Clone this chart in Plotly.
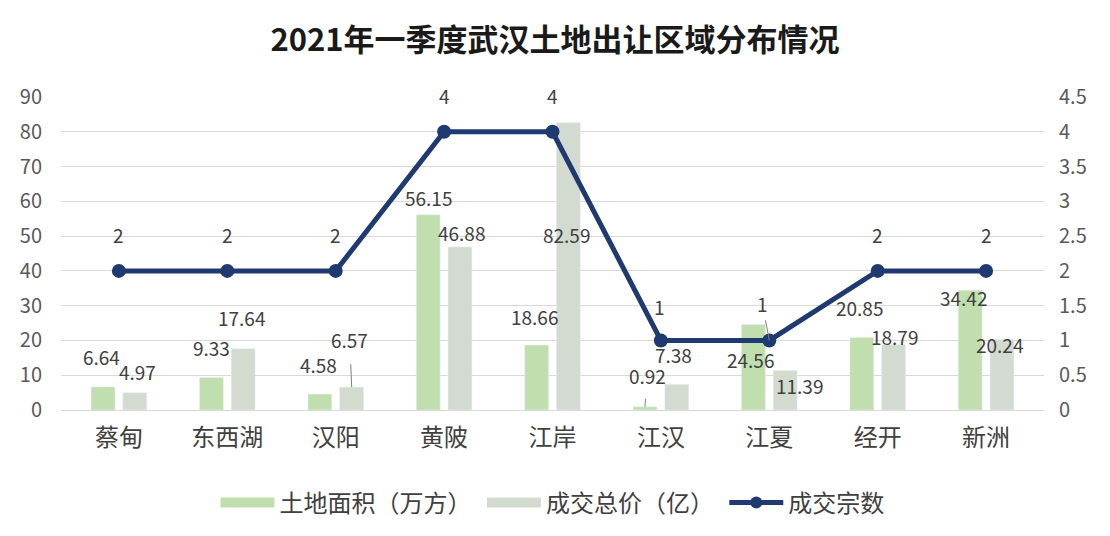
import plotly.graph_objects as go

categories = ["蔡甸", "东西湖", "汉阳", "黄陂", "江岸", "江汉", "江夏", "经开", "新洲"]
land_area = [6.64, 9.33, 4.58, 56.15, 18.66, 0.92, 24.56, 20.85, 34.42]
total_price = [4.97, 17.64, 6.57, 46.88, 82.59, 7.38, 11.39, 18.79, 20.24]
deal_count = [2, 2, 2, 4, 4, 1, 1, 2, 2]

title_text = "2021年一季度武汉土地出让区域分布情况"
series_names = ["土地面积（万方）", "成交总价（亿）", "成交宗数"]
left_ticks = [0, 10, 20, 30, 40, 50, 60, 70, 80, 90]
right_ticks = [0, 0.5, 1, 1.5, 2, 2.5, 3, 3.5, 4, 4.5]
right_tick_text = ["0", "0.5", "1", "1.5", "2", "2.5", "3", "3.5", "4", "4.5"]

# label placement offsets (pixels): (xshift, yshift) relative to bar top / point
land_offsets = [(-1, 30), (0, 30), (-1, 30), (0, 17), (-2, 29), (3, 31), (-3, -35), (-2, 30), (-7, -7)]
price_offsets = [(3, 21), (-2, 31), (-2, 48), (1, 14), (-2, -112), (-3, 30), (14, -15), (1, 8), (-3, -5)]
count_offsets = [(0, 36)] * 5 + [(-1, 34), (-7, 37), (0, 36), (0, 36)]
land_leader = [False, False, False, False, False, True, False, False, False]
price_leader = [False, False, True, False, False, False, False, False, False]
count_leader = [False, False, False, False, False, False, True, False, False]

GREEN = "#c1dfae"
GRAY = "#d3dbd0"
NAVY = "#1f3a70"
TXT = "#404040"
FONT = "Noto Sans CJK SC"
LBL = dict(size=19, color=TXT, family=FONT)

fig = go.Figure()
fig.add_trace(go.Bar(x=categories, y=land_area, name=series_names[0], marker_color=GREEN, showlegend=False))
fig.add_trace(go.Bar(x=categories, y=total_price, name=series_names[1], marker_color=GRAY, showlegend=False))
fig.add_trace(go.Scatter(x=categories, y=deal_count, name=series_names[2], yaxis="y2",
                         mode="lines+markers", line=dict(color=NAVY, width=5),
                         marker=dict(color=NAVY, size=14), showlegend=False))
# legend entries
fig.add_trace(go.Scatter(x=[None], y=[None], name=series_names[0] + "&nbsp;", mode="lines",
                         line=dict(color=GREEN, width=11)))
fig.add_trace(go.Scatter(x=[None], y=[None], name=series_names[1] + "&nbsp;", mode="lines",
                         line=dict(color=GRAY, width=11)))
fig.add_trace(go.Scatter(x=[None], y=[None], name=series_names[2], mode="lines+markers",
                         line=dict(color=NAVY, width=5), marker=dict(color=NAVY, size=12)))

annotations = []
BAR_OFF = 16


def add(cat, val, text, yref, base_x, off, leader, sso):
    xs, ys = off
    if leader:
        annotations.append(dict(x=cat, y=val, xref="x", yref=yref, text=text,
                                showarrow=True, arrowhead=0, arrowwidth=1, arrowcolor="#7f7f7f",
                                ax=xs, ay=-ys, startstandoff=sso, xshift=base_x, font=LBL))
    else:
        annotations.append(dict(x=cat, y=val, xref="x", yref=yref, text=text,
                                showarrow=False, xshift=base_x + xs, yshift=ys, font=LBL))


for c, v, off, ld in zip(categories, land_area, land_offsets, land_leader):
    add(c, v, f"{v:.2f}", "y", -BAR_OFF, off, ld, 8)
for c, v, off, ld in zip(categories, total_price, price_offsets, price_leader):
    add(c, v, f"{v:.2f}", "y", BAR_OFF, off, ld, 10)
for c, v, off, ld in zip(categories, deal_count, count_offsets, count_leader):
    add(c, v, str(v), "y2", 0, off, ld, 2)

fig.update_layout(
    width=1110, height=536,
    paper_bgcolor="white", plot_bgcolor="white",
    margin=dict(l=61, r=66, t=97, b=125),
    barmode="group", bargap=0.414, bargroupgap=0.25,
    title=dict(text=f"<b>{title_text}</b>", x=0.5, xanchor="center", y=1 - 40 / 536, yanchor="middle",
               font=dict(size=31, color="#1a1a1a", family=FONT)),
    font=dict(family=FONT, color=TXT),
    xaxis=dict(tickfont=dict(size=24, color=TXT), showgrid=False, ticks="", showline=True,
               linecolor="#d9d9d9", linewidth=1, ticklabelstandoff=6, automargin=False),
    yaxis=dict(range=[0, 90], tickvals=left_ticks, tickfont=dict(size=20, color="#595959"),
               showgrid=True, gridcolor="#d9d9d9", gridwidth=1, zeroline=False,
               ticks="", ticklabelstandoff=18, automargin=False),
    yaxis2=dict(range=[0, 4.5], tickvals=right_ticks, ticktext=right_tick_text, overlaying="y", side="right",
                tickfont=dict(size=20, color="#595959"), showgrid=False, zeroline=False,
                ticks="", ticklabelstandoff=14, automargin=False),
    legend=dict(orientation="h", x=0.5, xanchor="center", y=-0.293, yanchor="middle",
                font=dict(size=24, color=TXT), itemwidth=54, traceorder="normal"),
    annotations=annotations,
)

fig.write_html("out.html", post_script="document.body.style.margin='0';",
               config={"displayModeBar": False})
